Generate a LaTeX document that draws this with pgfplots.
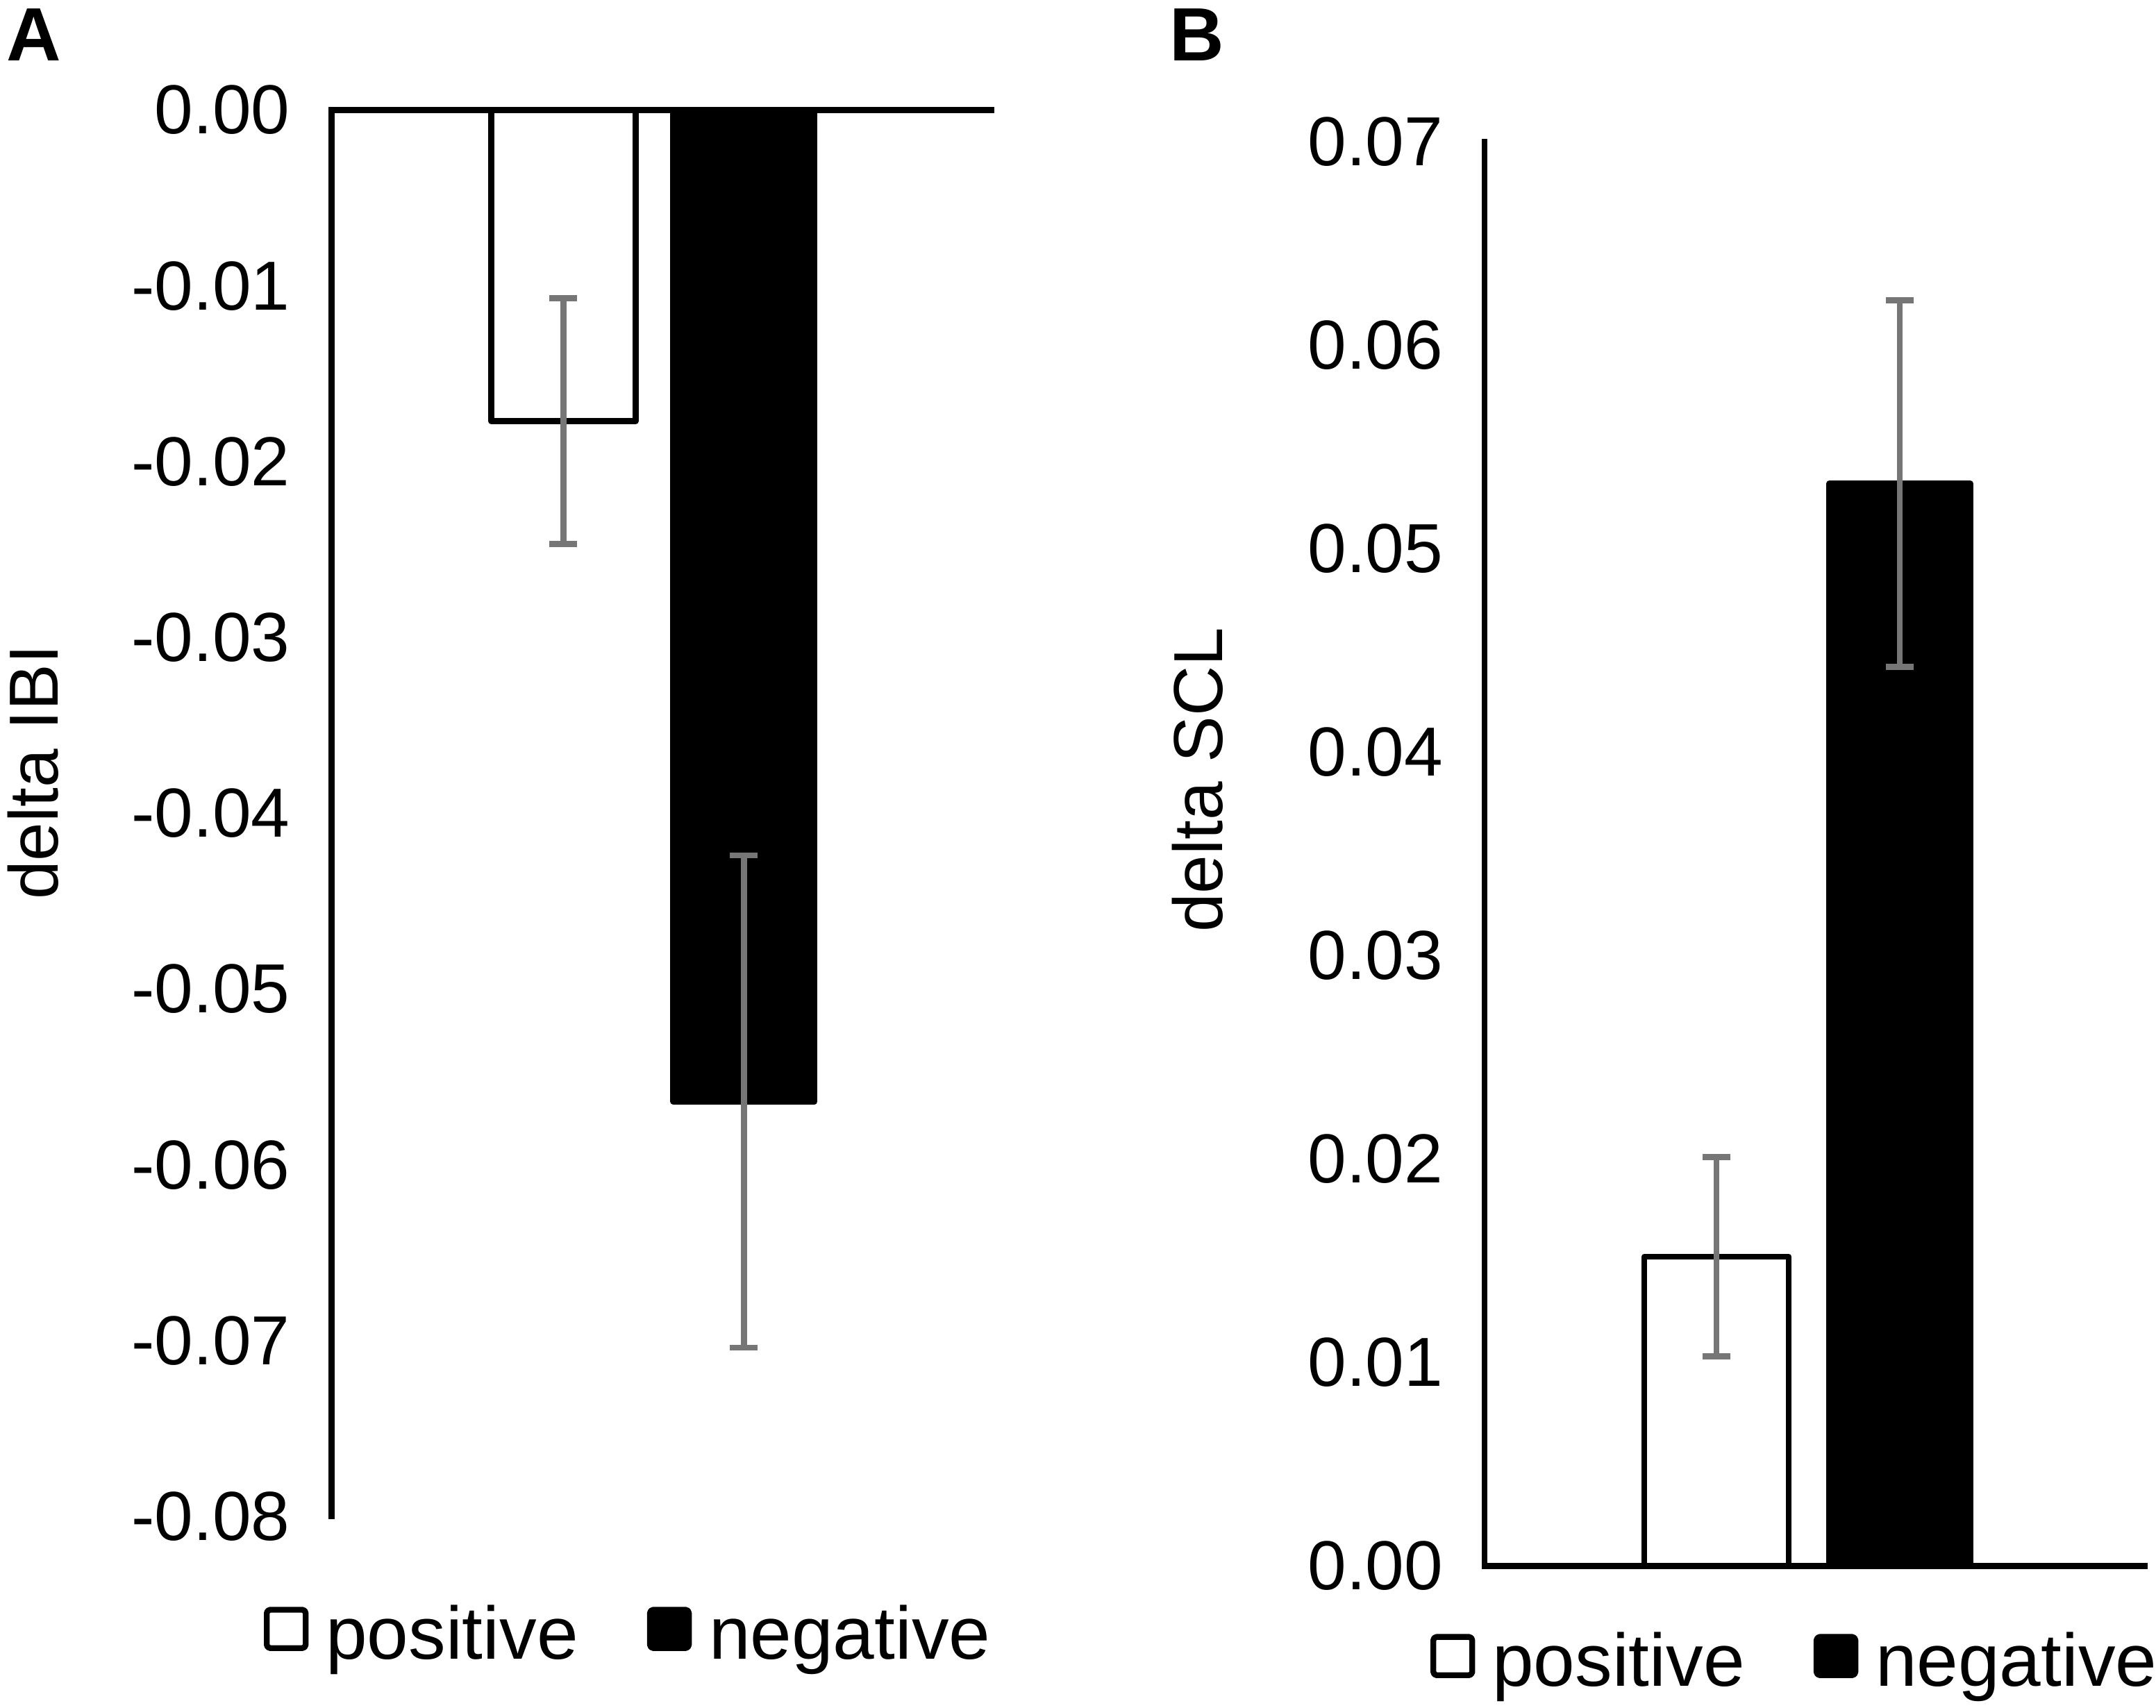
\documentclass[border=0pt]{standalone}
\usepackage{pgfplots}
\pgfplotsset{compat=1.18}
\usepackage{fontspec}
\setmainfont{Liberation Sans}
\definecolor{errgray}{RGB}{118,118,118}
\pgfplotsset{
  panel/.style={
    scale only axis,
    clip=false,
    axis y line*=left,
    xmin=0, xmax=951,
    xtick=\empty,
    scaled y ticks=false,
    major tick length=0pt,
    axis line style={line width=1.05pt, line cap=rect},
    yticklabel style={font=\fontsize{12.5}{15}\selectfont, inner sep=0pt, xshift=-7.3pt},
    legend columns=2,
    legend style={draw=none, fill=none, inner sep=0pt, outer sep=0pt, anchor=north west,
      font=\fontsize{13.4}{16}\selectfont, nodes={inner sep=0pt, outer sep=0pt},
      /tikz/every odd column/.append style={column sep=3.1pt},
      /tikz/every even column/.append style={column sep=12.4pt}},
  },
  sqleg/.style={legend image code/.code={\draw[##1,/tikz/.cd,line width=1.05pt,rounded corners=0.6pt] (0pt,-2.1pt) rectangle (7pt,4.8pt);}},
  errs/.style={error bars/.cd, y dir=both, y explicit,
     error bar style={line width=1.1pt, draw=errgray},
     error mark=-,
     error mark options={rotate=90, mark size=2.5pt, line width=1.1pt, draw=errgray}},
  posbar/.style={ybar, bar width=26pt, bar shift=0pt, fill=white, draw=black, line width=1.05pt, line join=round, sqleg, errs},
  negbar/.style={ybar, bar width=25.4pt, bar shift=0pt, fill=black, draw=black, line width=1.05pt, line join=round, sqleg, errs},
}
\begin{document}
\begin{tikzpicture}
\useasboundingbox (0,0) rectangle (388.125pt,307.375pt);
% Panel A
\begin{axis}[panel,
  at={(59.69pt,34.375pt)}, anchor=south west,
  width=118.81pt, height=253.19pt,
  axis x line*=top,
  ymin=-0.08, ymax=0,
  ytick={-0.08,-0.07,-0.06,-0.05,-0.04,-0.03,-0.02,-0.01,0},
  yticklabels={-0.08,-0.07,-0.06,-0.05,-0.04,-0.03,-0.02,-0.01,0.00},
  ylabel={delta IBI},
  every axis y label/.style={at={(axis description cs:-0.415,0.529)}, rotate=90, anchor=base, font=\fontsize{12.5}{15}\selectfont},
  legend style={at={(axis description cs:-0.1026,-0.0632)}},
]
\addplot[posbar] coordinates {(334,-0.0177) +- (0,0.0070)};
\addlegendentry{positive}
\addplot[negbar] coordinates {(594,-0.0564) +- (0,0.0140)};
\addlegendentry{negative}
\end{axis}
% Panel B
\begin{axis}[panel,
  at={(267.25pt,25.44pt)}, anchor=south west,
  width=118.875pt, height=256.44pt,
  axis x line*=bottom,
  ymin=0, ymax=0.07,
  ytick={0,0.01,0.02,0.03,0.04,0.05,0.06,0.07},
  yticklabels={0.00,0.01,0.02,0.03,0.04,0.05,0.06,0.07},
  ylabel={delta SCL},
  every axis y label/.style={at={(axis description cs:-0.397,0.552)}, rotate=90, anchor=base, font=\fontsize{12.5}{15}\selectfont},
  legend style={at={(axis description cs:-0.082,-0.0466)}},
]
\addplot[posbar] coordinates {(334,0.0152) +- (0,0.0049)};
\addlegendentry{positive}
\addplot[negbar] coordinates {(598,0.0532) +- (0,0.0090)};
\addlegendentry{negative}
\end{axis}
\node[anchor=base west, inner sep=0pt, font=\fontsize{13.6}{16}\selectfont\bfseries] at (1pt,296.4pt) {A};
\node[anchor=base west, inner sep=0pt, font=\fontsize{13.6}{16}\selectfont\bfseries] at (210.4pt,296.4pt) {B};
\end{tikzpicture}
\end{document}
